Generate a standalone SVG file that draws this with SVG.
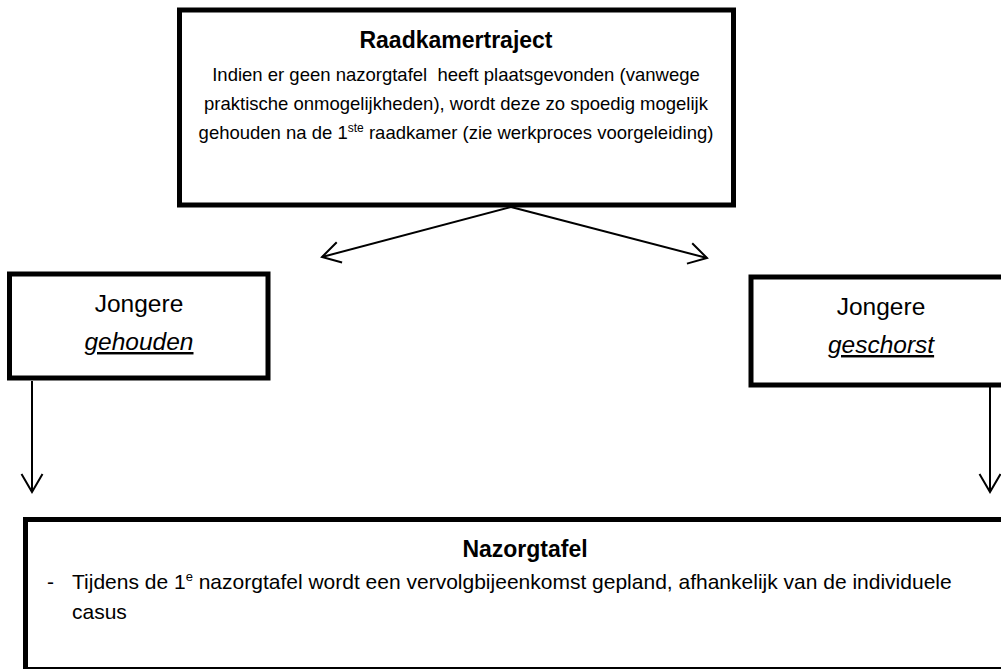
<svg xmlns="http://www.w3.org/2000/svg" width="1001" height="669" viewBox="0 0 1001 669">
<defs>
<marker id="ah" markerWidth="24" markerHeight="24" viewBox="-20 -12 24 24" refX="0" refY="0" orient="auto" markerUnits="userSpaceOnUse">
<path d="M-18,-10.5 L0,0 L-18,10.5" fill="none" stroke="#000" stroke-width="2"/>
</marker>
<style>
.box{fill:#fff;stroke:#000;stroke-width:5}
.t{font-family:"Liberation Sans",Arial,sans-serif;fill:#000}
.title{font-weight:bold;font-size:23px}
.body{font-size:18.5px}
.body2{font-size:21px}
.big{font-size:24.5px}
.em{font-style:italic;text-decoration:underline}
.conn{stroke:#000;stroke-width:2;fill:none}
</style>
</defs>
<rect width="1001" height="669" fill="#fff"/>
<g id="connectors">
<line class="conn" x1="511" y1="207" x2="322" y2="257" marker-end="url(#ah)"/>
<line class="conn" x1="511" y1="207" x2="707" y2="258" marker-end="url(#ah)"/>
<line class="conn" x1="32" y1="381" x2="32" y2="492" marker-end="url(#ah)"/>
<line class="conn" x1="990" y1="387" x2="990" y2="492" marker-end="url(#ah)"/>
</g>
<g id="raadkamertraject">
<rect class="box" x="179.5" y="10" width="554" height="195"/>
<text class="t title" x="456" y="48" text-anchor="middle">Raadkamertraject</text>
<text class="t body" x="456" y="81" text-anchor="middle" xml:space="preserve">Indien er geen nazorgtafel  heeft plaatsgevonden (vanwege</text>
<text class="t body" x="456" y="110" text-anchor="middle">praktische onmogelijkheden), wordt deze zo spoedig mogelijk</text>
<text class="t body" x="456" y="139" text-anchor="middle">gehouden na de 1<tspan font-size="12" dy="-7">ste</tspan><tspan dy="7"> raadkamer (zie werkproces voorgeleiding)</tspan></text>
</g>
<g id="gehouden">
<rect class="box" x="9.5" y="274" width="258.5" height="104"/>
<text class="t big" x="139" y="312" text-anchor="middle">Jongere</text>
<text class="t big em" x="139" y="350" text-anchor="middle">gehouden</text>
</g>
<g id="geschorst">
<rect class="box" x="751" y="277" width="260" height="108"/>
<text class="t big" x="881" y="315" text-anchor="middle">Jongere</text>
<text class="t big em" x="881" y="353" text-anchor="middle">geschorst</text>
</g>
<g id="nazorgtafel">
<rect class="box" x="25.5" y="519.5" width="1000" height="150"/>
<text class="t title" x="525" y="557" text-anchor="middle">Nazorgtafel</text>
<text class="t body2" x="47" y="589">-</text>
<text class="t body2" x="72" y="589">Tijdens de 1<tspan font-size="13" dy="-8">e</tspan><tspan dy="8"> nazorgtafel wordt een vervolgbijeenkomst gepland, afhankelijk van de individuele</tspan></text>
<text class="t body2" x="72" y="619">casus</text>
</g>
</svg>
